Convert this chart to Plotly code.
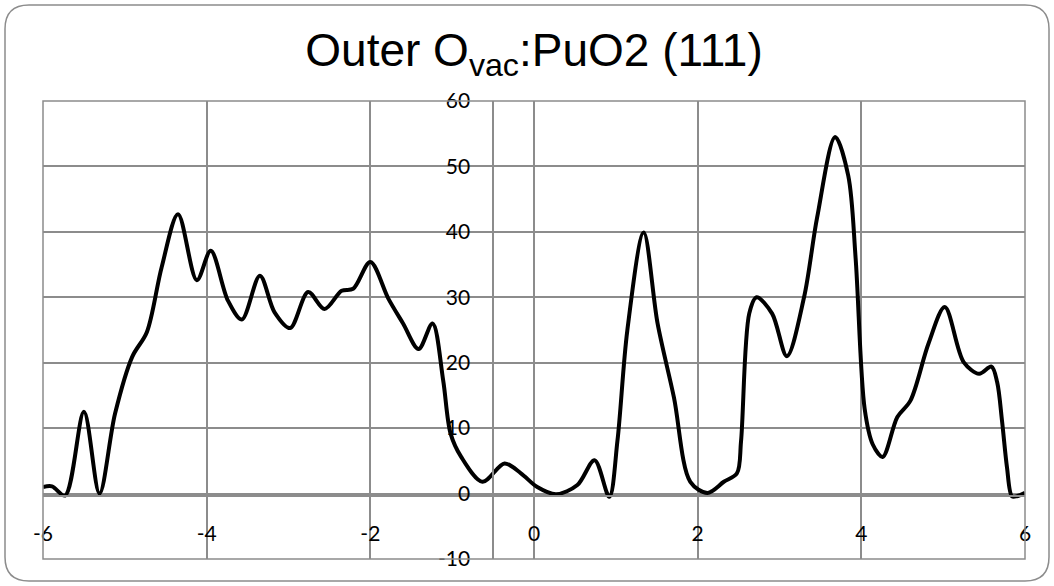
import plotly.graph_objects as go

# Energy (x) and DOS (y)
energy = [-6.0, -5.89, -5.73, -5.50, -5.31, -5.12, -4.91, -4.73, -4.55, -4.35,
          -4.12, -3.95, -3.74, -3.57, -3.35, -3.17, -2.98, -2.76, -2.56, -2.35,
          -2.21, -2.0, -1.78, -1.60, -1.41, -1.24, -1.11, -1.02, -0.89, -0.63,
          -0.36, -0.16, 0.04, 0.27, 0.53, 0.74, 0.92, 1.02, 1.14, 1.34,
          1.51, 1.71, 1.91, 2.12, 2.32, 2.48, 2.53, 2.63, 2.72, 2.91,
          3.09, 3.30, 3.46, 3.68, 3.84, 3.93, 4.04, 4.14, 4.26, 4.44,
          4.60, 4.82, 5.02, 5.25, 5.44, 5.59, 5.66, 5.72, 5.78, 5.84,
          5.90, 6.0]
dos = [1.0, 1.1, -0.3, 12.5, 0.0, 12.2, 20.9, 24.7, 34.6, 42.7,
       32.6, 37.1, 29.5, 26.6, 33.3, 27.7, 25.3, 30.8, 28.2, 31.0,
       31.3, 35.4, 29.8, 26.0, 22.1, 26.0, 17.3, 9.2, 5.6, 1.8,
       4.6, 3.1, 1.0, -0.1, 1.3, 5.1, -0.5, 8.1, 24.9, 39.9,
       26.0, 14.7, 1.8, 0.1, 1.8, 3.1, 8.0, 27.5, 30.0, 27.5,
       21.0, 30.0, 42.2, 54.5, 48.6, 36.0, 13.0, 7.5, 5.6, 11.7,
       14.2, 22.9, 28.5, 20.1, 18.3, 19.4, 17.0, 11.0, 4.0, -0.4,
       -0.4, 0.1]

x_ticks = [-6, -4, -2, 0, 2, 4, 6]
y_ticks = [-10, 0, 10, 20, 30, 40, 50, 60]
x_range = [-6, 6]
y_range = [-10, 60]
y_axis_cross_x = -0.5
x_axis_cross_y = -0.4

W, H = 1054, 586
ML, MR, MT, MB = 43, 29, 101, 27
GRID = "#8c8c8c"

fig = go.Figure()
fig.add_trace(go.Scatter(x=energy, y=dos, mode="lines",
                         line=dict(color="black", width=4, shape="spline", smoothing=0.9),
                         hoverinfo="skip", showlegend=False))

tick_font = dict(family="Lato", size=21, color="black")

fig.update_layout(
    width=W, height=H,
    margin=dict(l=ML, r=MR, t=MT, b=MB),
    paper_bgcolor="white", plot_bgcolor="rgba(0,0,0,0)",
    title=dict(text="Outer O<sub>vac</sub>:PuO2 (111)",
               font=dict(family="Liberation Sans, Arial", size=46, color="black"),
               x=0.5, xref="paper", xanchor="center",
               y=1 - 50 / H, yref="container", yanchor="middle"),
    xaxis=dict(range=x_range, tickvals=x_ticks, ticktext=[str(v) for v in x_ticks],
               showgrid=True, gridcolor=GRID, gridwidth=1.5, zeroline=False,
               showline=True, linecolor=GRID, linewidth=1.5,
               anchor="free",
               position=(x_axis_cross_y - y_range[0]) / (y_range[1] - y_range[0]),
               ticks="", tickfont=tick_font, ticklabelstandoff=19),
    yaxis=dict(range=y_range, tickvals=y_ticks, ticktext=[str(v) for v in y_ticks],
               showgrid=True, gridcolor=GRID, gridwidth=1.5, zeroline=False,
               showline=True, linecolor=GRID, linewidth=1.5,
               anchor="free",
               position=(y_axis_cross_x - x_range[0]) / (x_range[1] - x_range[0]),
               ticks="", tickfont=tick_font, ticklabelstandoff=18),
)

# plot-area frame (edge gridlines at range limits)
fig.add_shape(type="rect", xref="paper", yref="paper",
              x0=0, x1=1, y0=0, y1=1,
              line=dict(color=GRID, width=1.5), layer="above")

# rounded chart border (pixel geometry converted to paper coords)
pw, ph = W - ML - MR, H - MT - MB
def px(v):
    return (v - ML) / pw
def py(v):
    return (H - MB - v) / ph
L, R, T, B, r = 5, 1049, 5, 581, 24
path = (f"M {px(L+r)},{py(T)} L {px(R-r)},{py(T)} Q {px(R)},{py(T)} {px(R)},{py(T+r)} "
        f"L {px(R)},{py(B-r)} Q {px(R)},{py(B)} {px(R-r)},{py(B)} "
        f"L {px(L+r)},{py(B)} Q {px(L)},{py(B)} {px(L)},{py(B-r)} "
        f"L {px(L)},{py(T+r)} Q {px(L)},{py(T)} {px(L+r)},{py(T)} Z")
fig.add_shape(type="path", path=path, xref="paper", yref="paper",
              line=dict(color=GRID, width=1.5), layer="below")

fig.write_html("out.html")
